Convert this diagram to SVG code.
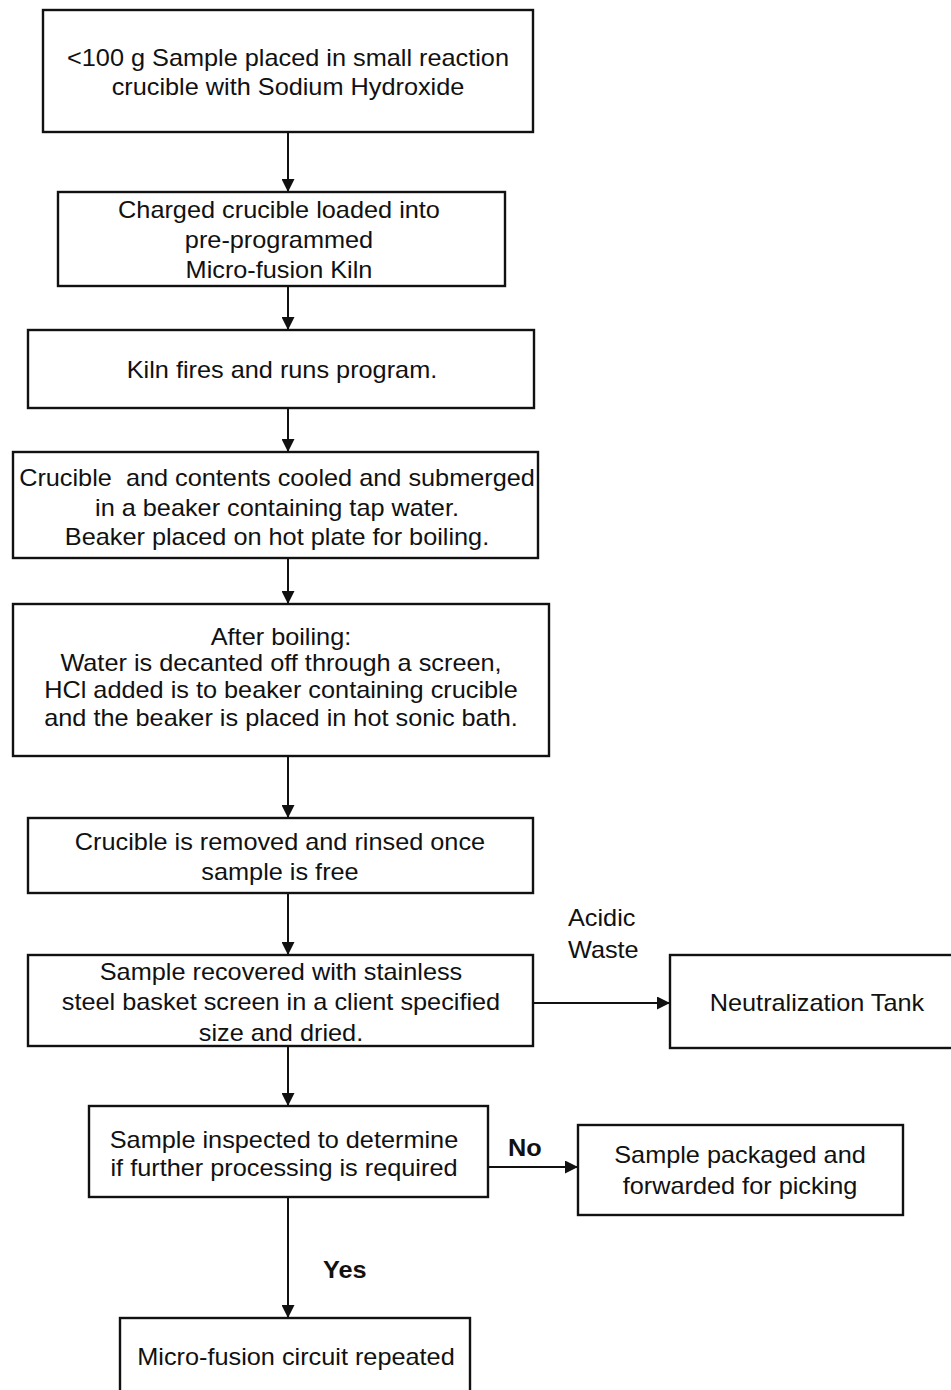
<svg xmlns="http://www.w3.org/2000/svg" width="951" height="1390" viewBox="0 0 951 1390">
<style>
.box{fill:#fff;stroke:#111;stroke-width:2.4}
.t{font-family:"Liberation Sans",Arial,sans-serif;font-size:23px;fill:#111;text-anchor:middle;dominant-baseline:central}
.lbl{font-family:"Liberation Sans",Arial,sans-serif;font-size:23px;fill:#111;dominant-baseline:central}
.b{font-weight:bold}
.c{stroke:#111;stroke-width:2;fill:none}
</style>
<defs>
<marker id="ah" viewBox="0 0 10 10" refX="10" refY="5" markerWidth="6.5" markerHeight="6.5" markerUnits="strokeWidth" orient="auto">
<path d="M0,0 L10,5 L0,10 Z" fill="#111"/>
</marker>
</defs>
<rect width="951" height="1390" fill="#fff"/>
<g id="connectors">
<line class="c" x1="288" y1="132" x2="288" y2="192" marker-end="url(#ah)"/>
<line class="c" x1="288" y1="286" x2="288" y2="330" marker-end="url(#ah)"/>
<line class="c" x1="288" y1="408" x2="288" y2="452" marker-end="url(#ah)"/>
<line class="c" x1="288" y1="558" x2="288" y2="604" marker-end="url(#ah)"/>
<line class="c" x1="288" y1="756" x2="288" y2="818" marker-end="url(#ah)"/>
<line class="c" x1="288" y1="893" x2="288" y2="955" marker-end="url(#ah)"/>
<line class="c" x1="533" y1="1003" x2="670" y2="1003" marker-end="url(#ah)"/>
<line class="c" x1="288" y1="1046" x2="288" y2="1106" marker-end="url(#ah)"/>
<line class="c" x1="488" y1="1167" x2="578" y2="1167" marker-end="url(#ah)"/>
<line class="c" x1="288" y1="1197" x2="288" y2="1318" marker-end="url(#ah)"/>
<g transform="scale(1.1,1)">
<text class="lbl" x="516.36" y="918">Acidic</text>
<text class="lbl" x="516.36" y="950">Waste</text>
<text class="lbl b" x="461.82" y="1148">No</text>
<text class="lbl b" x="293.64" y="1270">Yes</text>
</g>
</g>
<g id="n1"><rect class="box" x="43" y="10" width="490" height="122"/>
<g transform="scale(1.1,1)">
<text class="t" x="261.82" y="58">&lt;100 g Sample placed in small reaction</text>
<text class="t" x="261.82" y="87">crucible with Sodium Hydroxide</text></g></g>
<g id="n2"><rect class="box" x="58" y="192" width="447" height="94"/>
<g transform="scale(1.1,1)">
<text class="t" x="253.64" y="210">Charged crucible loaded into</text>
<text class="t" x="253.64" y="240">pre-programmed</text>
<text class="t" x="253.64" y="270">Micro-fusion Kiln</text></g></g>
<g id="n3"><rect class="box" x="28" y="330" width="506" height="78"/>
<g transform="scale(1.1,1)">
<text class="t" x="256.36" y="370">Kiln fires and runs program.</text></g></g>
<g id="n4"><rect class="box" x="13" y="452" width="525" height="106"/>
<g transform="scale(1.1,1)">
<text class="t" x="251.82" y="478">Crucible&#160; and contents cooled and submerged</text>
<text class="t" x="251.82" y="508">in a beaker containing tap water.</text>
<text class="t" x="251.82" y="537">Beaker placed on hot plate for boiling.</text></g></g>
<g id="n5"><rect class="box" x="13" y="604" width="536" height="152"/>
<g transform="scale(1.1,1)">
<text class="t" x="255.45" y="637">After boiling:</text>
<text class="t" x="255.45" y="663">Water is decanted off through a screen,</text>
<text class="t" x="255.45" y="690">HCl added is to beaker containing crucible</text>
<text class="t" x="255.45" y="718">and the beaker is placed in hot sonic bath.</text></g></g>
<g id="n6"><rect class="box" x="28" y="818" width="505" height="75"/>
<g transform="scale(1.1,1)">
<text class="t" x="254.55" y="842">Crucible is removed and rinsed once</text>
<text class="t" x="254.55" y="872">sample is free</text></g></g>
<g id="n7"><rect class="box" x="28" y="955" width="505" height="91"/>
<g transform="scale(1.1,1)">
<text class="t" x="255.45" y="972">Sample recovered with stainless</text>
<text class="t" x="255.45" y="1002">steel basket screen in a client specified</text>
<text class="t" x="255.45" y="1033">size and dried.</text></g></g>
<g id="n8"><rect class="box" x="670" y="955" width="290" height="93"/>
<g transform="scale(1.1,1)">
<text class="t" x="742.73" y="1003">Neutralization Tank</text></g></g>
<g id="n9"><rect class="box" x="89" y="1106" width="399" height="91"/>
<g transform="scale(1.1,1)">
<text class="t" x="258.18" y="1140">Sample inspected to determine</text>
<text class="t" x="258.18" y="1168">if further processing is required</text></g></g>
<g id="n10"><rect class="box" x="578" y="1125" width="325" height="90"/>
<g transform="scale(1.1,1)">
<text class="t" x="672.73" y="1155">Sample packaged and</text>
<text class="t" x="672.73" y="1186">forwarded for picking</text></g></g>
<g id="n11"><rect class="box" x="120" y="1318" width="350" height="90"/>
<g transform="scale(1.1,1)">
<text class="t" x="269.09" y="1357">Micro-fusion circuit repeated</text></g></g>
</svg>
